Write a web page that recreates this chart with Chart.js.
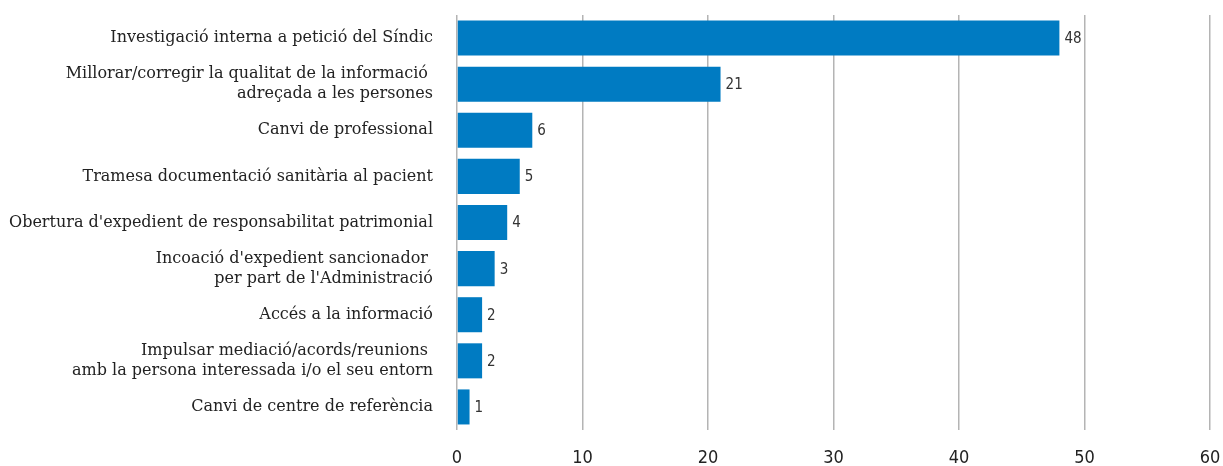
<!DOCTYPE html>
<html>
<head>
<meta charset="utf-8">
<script src="https://cdn.jsdelivr.net/npm/chart.js@4/dist/chart.umd.min.js"></script>
<style>
  html, body { margin: 0; padding: 0; background: #fff; }
  #wrap { width: 1223px; height: 466px; position: relative; }
</style>
</head>
<body>
<div id="wrap"><canvas id="chart_canvas"></canvas></div>
<script>
// categories (multi-line labels as arrays)
var categories = [
  "Investigació interna a petició del Síndic",
  ["Millorar/corregir la qualitat de la informació ", "adreçada a les persones"],
  "Canvi de professional",
  "Tramesa documentació sanitària al pacient",
  "Obertura d'expedient de responsabilitat patrimonial",
  ["Incoació d'expedient sancionador ", "per part de l'Administració"],
  "Accés a la informació",
  ["Impulsar mediació/acords/reunions ", "amb la persona interessada i/o el seu entorn"],
  "Canvi de centre de referència"
];
var values = [48, 21, 6, 5, 4, 3, 2, 2, 1];
var xTicks = [0, 10, 20, 30, 40, 50, 60];

// value labels drawn just after each bar
var valueLabels = {
  id: 'valueLabels',
  afterDatasetsDraw: function(chart) {
    var ctx = chart.ctx;
    var meta = chart.getDatasetMeta(0);
    ctx.save();
    ctx.font = '15px "DejaVu Sans Condensed", "DejaVu Sans", sans-serif';
    ctx.fillStyle = '#333';
    ctx.textAlign = 'left';
    ctx.textBaseline = 'middle';
    meta.data.forEach(function(bar, i) {
      ctx.fillText(values[i], bar.x + 5, bar.y + 1);
    });
    ctx.restore();
  }
};

window.onload = function(){
  var ctx = document.getElementById("chart_canvas").getContext("2d");
  window.bar_chart = new Chart(ctx, {
    type: 'bar',
    data: {
      labels: categories,
      datasets: [{
        data: values,
        backgroundColor: '#007bc2',
        borderWidth: 0,
        barPercentage: 0.76,
        categoryPercentage: 1.0
      }]
    },
    options: {
      indexAxis: 'y',
      responsive: true,
      maintainAspectRatio: false,
      animation: false,
      layout: { padding: { top: 15, right: 13, left: 0, bottom: 0 } },
      plugins: { legend: { display: false }, tooltip: { enabled: false } },
      scales: {
        x: {
          min: 0, max: 60,
          afterBuildTicks: function(scale) {
            scale.ticks = xTicks.map(function(v){ return { value: v }; });
          },
          afterFit: function(scale) {
            scale.height = 36;
            scale.paddingLeft = 0; scale.paddingRight = 0;
          },
          border: { display: false },
          grid: { color: '#b4b4b4', lineWidth: 1.5, drawTicks: false },
          ticks: {
            padding: 18,
            color: '#222',
            font: { family: '"DejaVu Sans Condensed", "DejaVu Sans", sans-serif', size: 18 }
          }
        },
        y: {
          afterFit: function(scale) {
            scale.width = 457;
            scale.paddingTop = 0; scale.paddingBottom = 0;
          },
          border: { display: false },
          grid: { display: false },
          ticks: {
            padding: 16,
            color: '#222',
            font: { family: '"DejaVu Serif", serif', size: 16, lineHeight: 1.25 }
          }
        }
      }
    },
    plugins: [valueLabels]
  });
};
</script>
</body>
</html>
